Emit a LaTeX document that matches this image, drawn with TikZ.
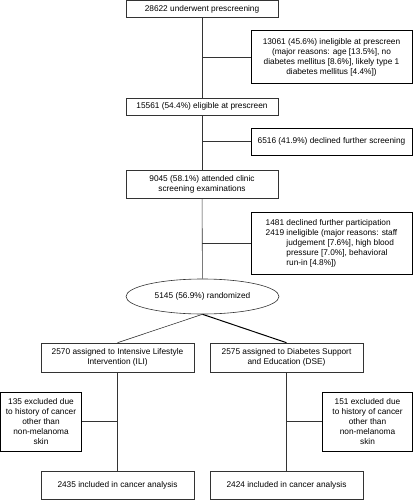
\documentclass[tikz,border=0pt]{standalone}
\usepackage{fontspec}
\setmainfont{Liberation Sans}
\usetikzlibrary{positioning,shapes.geometric}

\begin{document}
\begin{tikzpicture}[x=1pt, y=-1pt, font=\fontsize{8.3}{10}\selectfont]

% Define styles
\tikzstyle{mainbox} = [rectangle, draw=black!80, line width=0.6pt, align=center, inner sep=0pt, minimum width=152pt]
\tikzstyle{sidebox} = [rectangle, draw=black, line width=1pt, align=center, inner sep=0pt]
\tikzstyle{randnode} = [ellipse, draw=black!80, line width=0.6pt, align=center, inner sep=0pt, minimum width=153pt, minimum height=35pt]
\tikzstyle{link} = [draw=black!80, line width=0.6pt]

\useasboundingbox (0,0) rectangle (414,500);

% Screening boxes down the middle
\node [mainbox, minimum height=17pt] (prescreen) at (202,9) {28622 underwent prescreening};
\node [mainbox, minimum height=17pt] (eligible) at (202,106.5) {15561 (54.4\%) eligible at prescreen};
\node [mainbox, minimum height=28pt] (attended) at (202,184) {9045 (58.1\%) attended clinic\\screening examinations};
\node [randnode] (randomized) at (202.5,296.5) {5145 (56.9\%) randomized};

% Boxes on the right
\node [sidebox, minimum width=161pt, minimum height=53pt] (inelig) at (331.5,57.5) {13061 (45.6\%) ineligible at prescreen\\(major reasons: age [13.5\%], no\\diabetes mellitus [8.6\%], likely type 1\\diabetes mellitus [4.4\%])};
\node [sidebox, minimum width=161pt, minimum height=27pt] (declined) at (331.5,141.5) {6516 (41.9\%) declined further screening};
\node [sidebox, minimum width=161pt, minimum height=62pt] (notrand) at (331.5,243) {\begin{tabular}{@{}l@{ }l@{}}1481 & declined further participation\\2419 & ineligible (major reasons: staff\\ & judgement [7.6\%], high blood\\ & pressure [7.0\%], behavioral\\ & run-in [4.8\%])\end{tabular}};

% Study arms
\node [mainbox, minimum width=153pt, minimum height=29pt] (ili) at (117.5,357.5) {2570 assigned to Intensive Lifestyle\\Intervention (ILI)};
\node [mainbox, minimum width=153pt, minimum height=29pt] (dse) at (286.5,357.5) {2575 assigned to Diabetes Support\\and Education (DSE)};
\node [sidebox, minimum width=81pt, minimum height=59pt] (excili) at (41,421.5) {135 excluded due\\to history of cancer\\other than\\non-melanoma\\skin};
\node [sidebox, minimum width=90pt, minimum height=59pt] (excdse) at (367.5,421.5) {151 excluded due\\to history of cancer\\other than\\non-melanoma\\skin};
\node [mainbox, minimum width=153pt, minimum height=28pt] (incili) at (117.5,485.5) {2435 included in cancer analysis};
\node [mainbox, minimum width=153pt, minimum height=28pt] (incdse) at (286.5,485.5) {2424 included in cancer analysis};

% Main flow
\draw [link] (prescreen) -- (eligible);
\draw [link] (eligible) -- (attended);
\draw [link] (attended) -- (randomized);
\draw [link] (randomized.south) -- (ili.north);
\draw [link, line width=1pt, draw=black] (randomized.south) -- (dse.north);
\draw [link] (ili) -- (incili);
\draw [link] (dse) -- (incdse);

% Side branches
\draw [link] (prescreen.south |- inelig.west) -- (inelig.west);
\draw [link] (eligible.south |- declined.west) -- (declined.west);
\draw [link] (attended.south |- notrand.west) -- (notrand.west);
\draw [link] (ili.south |- excili.east) -- (excili.east);
\draw [link] (dse.south |- excdse.west) -- (excdse.west);

\end{tikzpicture}
\end{document}
